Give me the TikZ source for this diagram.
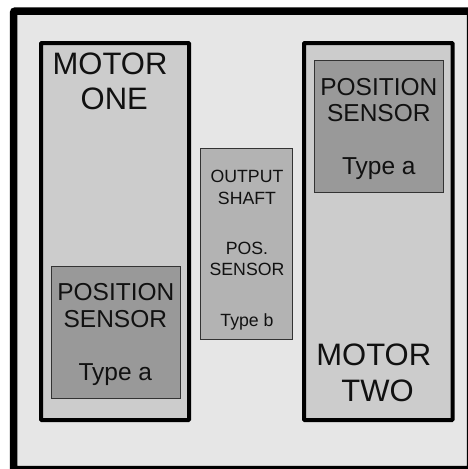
\documentclass[tikz,border=0pt]{standalone}
\usepackage{fontspec}
\setmainfont{Liberation Sans}
\definecolor{framefill}{HTML}{E6E6E6}
\definecolor{motorfill}{HTML}{CCCCCC}
\definecolor{sensorfill}{HTML}{999999}
\definecolor{shaftfill}{HTML}{B3B3B3}
\definecolor{thinline}{HTML}{333333}
\definecolor{txt}{HTML}{111111}
\begin{document}
\begin{tikzpicture}[x=1pt,y=-1pt,
  motorbox/.style={draw=black,fill=motorfill,line width=4pt,rounded corners=0.8pt},
  sensorbox/.style={draw=thinline,fill=sensorfill,line width=0.9pt},
  shaftbox/.style={draw=thinline,fill=shaftfill,line width=0.9pt},
  bigtxt/.style={anchor=base,inner sep=0pt,text=txt,font=\fontsize{31}{31}\selectfont},
  midtxt/.style={anchor=base,inner sep=0pt,text=txt,font=\fontsize{24.5}{24.5}\selectfont},
  smalltxt/.style={anchor=base,inner sep=0pt,text=txt,font=\fontsize{17.7}{17.7}\selectfont}]
\useasboundingbox (0,0) rectangle (468,469);
\fill[white] (0,0) rectangle (468,469);
\begin{scope}
\clip (0,0) rectangle (468,469);
\draw[fill=framefill,line width=7.5pt,rounded corners=2pt] (13.5,11) rectangle (470.5,469.5);
\end{scope}
% motor one
\draw[motorbox] (41,43) rectangle (189,420);
\node[bigtxt] (m1a) at (110,74) {MOTOR};
\node[bigtxt] (m1b) at (114.3,109) {ONE};
\draw[sensorbox] (51,266.3) rectangle (180,398);
\node[midtxt] (s1a) at (115.8,300) {POSITION};
\node[midtxt] (s1b) at (115.3,327) {SENSOR};
\node[midtxt] (s1c) at (115.3,380) {Type a};
% motor two
\draw[motorbox] (304,43) rectangle (452.5,420);
\draw[sensorbox] (314.3,60.3) rectangle (443.7,192.7);
\node[midtxt] (s2a) at (378.8,95.7) {POSITION};
\node[midtxt] (s2b) at (378.8,121) {SENSOR};
\node[midtxt] (s2c) at (378.8,174) {Type a};
\node[bigtxt] (m2a) at (373.8,365.7) {MOTOR};
\node[bigtxt] (m2b) at (377.5,401.3) {TWO};
% output shaft
\draw[shaftbox] (200,148.3) rectangle (292,339);
\node[smalltxt] (o1) at (247,182.7) {OUTPUT};
\node[smalltxt] (o2) at (247,204.3) {SHAFT};
\node[smalltxt] (o3) at (247,254.3) {POS.};
\node[smalltxt] (o4) at (247,275.3) {SENSOR};
\node[smalltxt] (o5) at (247,326.7) {Type b};
\end{tikzpicture}
\end{document}
